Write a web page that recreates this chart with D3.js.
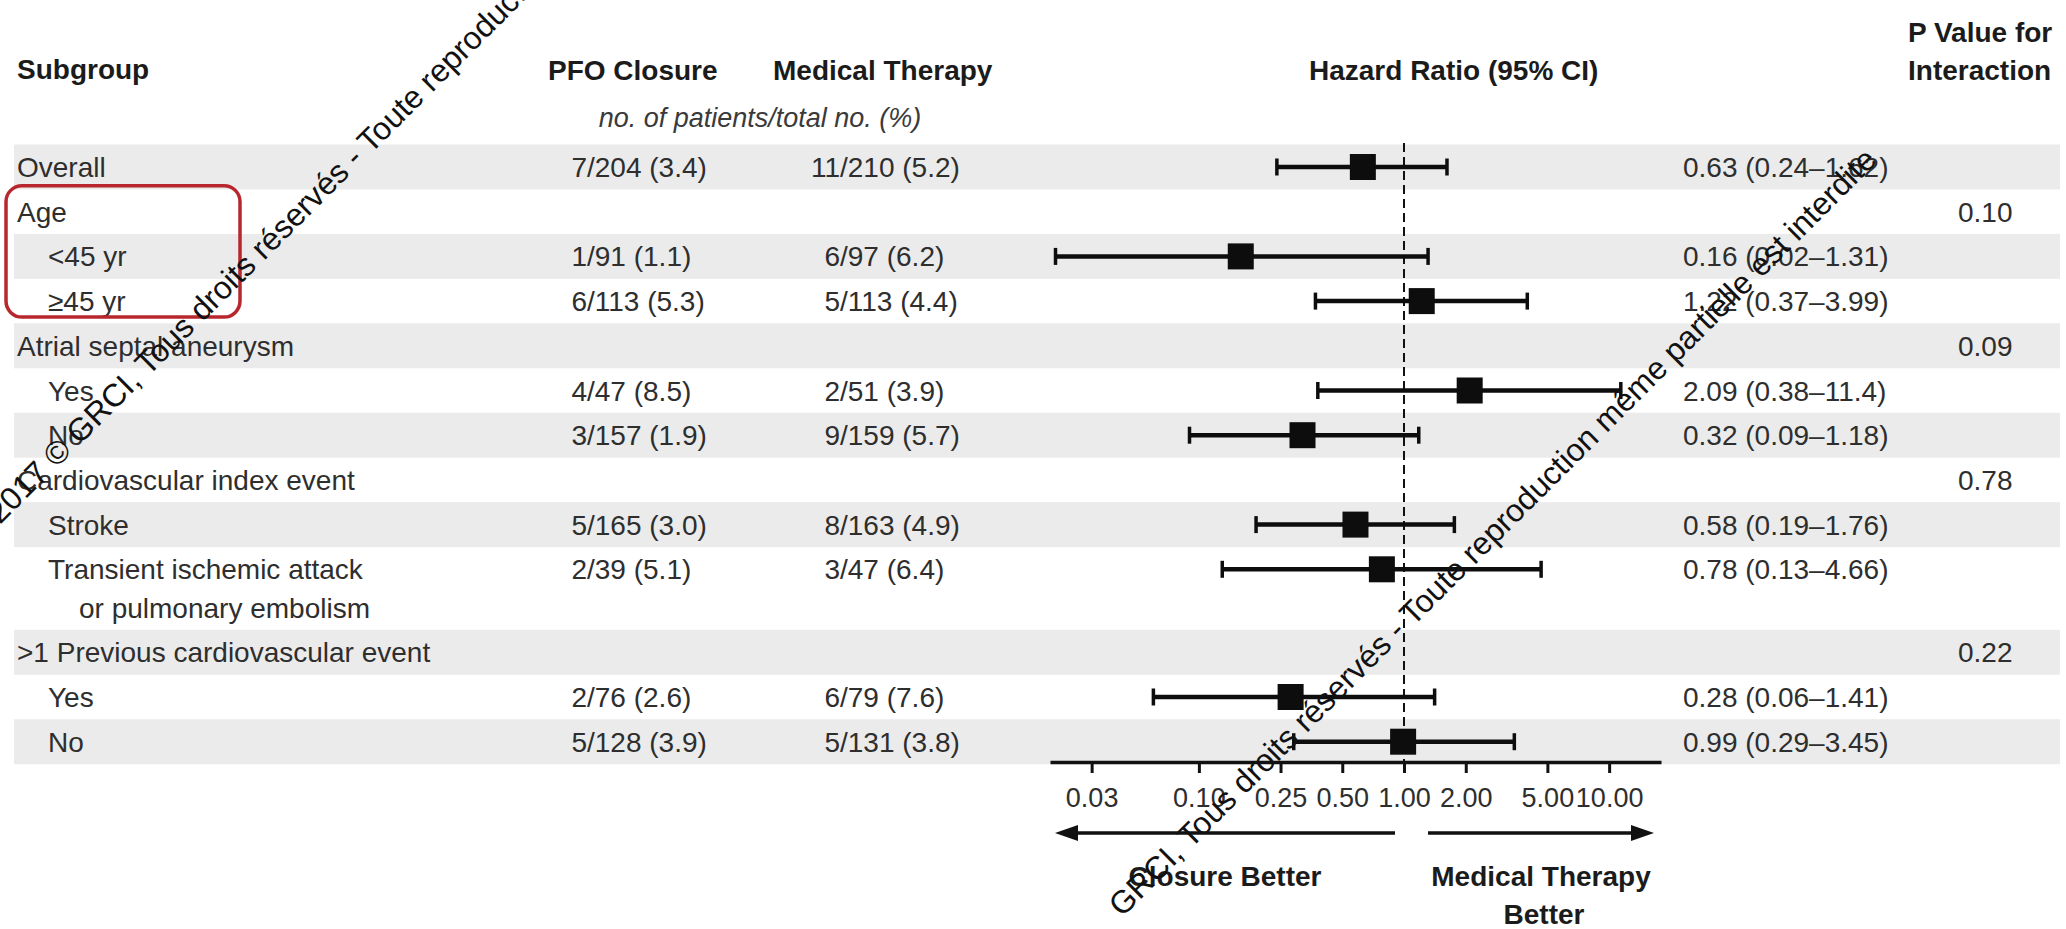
<!DOCTYPE html>
<html>
<head>
<meta charset="utf-8">
<script src="https://cdn.jsdelivr.net/npm/d3@7"></script>
<style>
  html, body { margin: 0; padding: 0; background: #fff; }
  svg { display: block; }
  text { font-family: "Liberation Sans", Arial, sans-serif; }
</style>
</head>
<body>
<svg id="chart" width="2066" height="929"></svg>
<script>
// ---- data -------------------------------------------------------------
const subgroups = ["Overall", "Age", "<45 yr", "\u226545 yr", "Atrial septal aneurysm", "Yes", "No",
  "Cardiovascular index event", "Stroke", "Transient ischemic attack\nor pulmonary embolism",
  ">1 Previous cardiovascular event", "Yes", "No"];
const levels = [0, 0, 1, 1, 0, 1, 1, 0, 1, 1, 0, 1, 1];

const pfoEvents = [7, null, 1, 6, null, 4, 3, null, 5, 2, null, 2, 5];
const pfoTotal  = [204, null, 91, 113, null, 47, 157, null, 165, 39, null, 76, 128];
const pfoPct    = [3.4, null, 1.1, 5.3, null, 8.5, 1.9, null, 3.0, 5.1, null, 2.6, 3.9];

const medEvents = [11, null, 6, 5, null, 2, 9, null, 8, 3, null, 6, 5];
const medTotal  = [210, null, 97, 113, null, 51, 159, null, 163, 47, null, 79, 131];
const medPct    = [5.2, null, 6.2, 4.4, null, 3.9, 5.7, null, 4.9, 6.4, null, 7.6, 3.8];

const hazardRatio = [0.63, null, 0.16, 1.22, null, 2.09, 0.32, null, 0.58, 0.78, null, 0.28, 0.99];
const ciLow       = [0.24, null, 0.02, 0.37, null, 0.38, 0.09, null, 0.19, 0.13, null, 0.06, 0.29];
const ciHigh      = [1.62, null, 1.31, 3.99, null, 11.4, 1.18, null, 1.76, 4.66, null, 1.41, 3.45];

const pInteraction = [null, "0.10", null, null, "0.09", null, null, "0.78", null, null, "0.22", null, null];

const axisTicks = [0.03, 0.10, 0.25, 0.50, 1.00, 2.00, 5.00, 10.00];

const noticeUpper = "2017 \u00a9 GRCI, Tous droits r\u00e9serv\u00e9s - Toute reproduction";
const noticeLower = "GRCI, Tous droits r\u00e9serv\u00e9s - Toute reproduction m\u00eame partielle est interdite";

// ---- layout -----------------------------------------------------------
const W = 2066, H = 929;
const svg = d3.select("#chart");
const ink = "#1b1b1b", body = "#2e2e2e";
const fs = 28;

const rowPitch = 44.7, lineStep = 38.3, firstRowY = 167;
const rowY = [];
{
  let cur = firstRowY;
  subgroups.forEach(s => { rowY.push(cur); cur += rowPitch + (s.split("\n").length - 1) * lineStep; });
}

const x = d3.scaleLog().domain([0.0188, 17.9]).range([1050, 1661]);
const axisY = 762;

const colLabel = [17, 48], contIndent = 79;
const pfoSlash = 587, medSlash = 840;
const ciX = 1683, pX = 1958;

// alternating row shading
svg.append("g").selectAll("rect")
  .data(subgroups.map((s, i) => i).filter(i => i % 2 === 0))
  .join("rect")
  .attr("x", 14).attr("width", 2046)
  .attr("y", i => rowY[i] - 22.5).attr("height", 45)
  .attr("fill", "#ebebeb");

// column headers
const hdr = svg.append("g").attr("font-weight", "bold").attr("font-size", fs).attr("fill", ink);
hdr.append("text").attr("x", 17).attr("y", 79).text("Subgroup");
hdr.append("text").attr("x", 548).attr("y", 80).text("PFO Closure");
hdr.append("text").attr("x", 773).attr("y", 80).text("Medical Therapy");
hdr.append("text").attr("x", 1309).attr("y", 80).text("Hazard Ratio (95% CI)");
hdr.append("text").attr("x", 1908).attr("y", 42).text("P Value for");
hdr.append("text").attr("x", 1908).attr("y", 80).text("Interaction");
svg.append("text").attr("x", 760).attr("y", 127).attr("text-anchor", "middle")
  .attr("font-style", "italic").attr("font-size", 27).attr("fill", "#3a3a3a")
  .text("no. of patients/total no. (%)");

// table body
const rows = svg.append("g").attr("font-size", fs).attr("fill", body);
subgroups.forEach((s, i) => {
  const y = rowY[i] + 10;
  s.split("\n").forEach((line, k) => {
    rows.append("text")
      .attr("x", k === 0 ? colLabel[levels[i]] : contIndent)
      .attr("y", y + k * lineStep)
      .text(line);
  });
  if (pfoEvents[i] != null) {
    rows.append("text").attr("x", pfoSlash).attr("y", y).attr("text-anchor", "end").text(pfoEvents[i]);
    rows.append("text").attr("x", pfoSlash).attr("y", y).text(`/${pfoTotal[i]} (${pfoPct[i].toFixed(1)})`);
    rows.append("text").attr("x", medSlash).attr("y", y).attr("text-anchor", "end").text(medEvents[i]);
    rows.append("text").attr("x", medSlash).attr("y", y).text(`/${medTotal[i]} (${medPct[i].toFixed(1)})`);
  }
  if (hazardRatio[i] != null) {
    const f = v => v >= 10 ? v.toFixed(1) : v.toFixed(2);
    rows.append("text").attr("x", ciX).attr("y", y)
      .text(`${f(hazardRatio[i])} (${f(ciLow[i])}\u2013${f(ciHigh[i])})`);
  }
  if (pInteraction[i] != null) {
    rows.append("text").attr("x", pX).attr("y", y).text(pInteraction[i]);
  }
});

// reference line at HR = 1
svg.append("line")
  .attr("x1", x(1)).attr("x2", x(1)).attr("y1", 143).attr("y2", axisY)
  .attr("stroke", "#111").attr("stroke-width", 2).attr("stroke-dasharray", "9,5");

// confidence intervals and point estimates
const est = svg.append("g").attr("stroke", "#0d0d0d");
hazardRatio.forEach((hr, i) => {
  if (hr == null) return;
  const y = rowY[i];
  est.append("line").attr("x1", x(ciLow[i])).attr("x2", x(ciHigh[i]))
    .attr("y1", y).attr("y2", y).attr("stroke-width", 4.5);
  [ciLow[i], ciHigh[i]].forEach(v => {
    est.append("line").attr("x1", x(v)).attr("x2", x(v))
      .attr("y1", y - 8.5).attr("y2", y + 8.5).attr("stroke-width", 3.5);
  });
  est.append("rect").attr("x", x(hr) - 13).attr("y", y - 13)
    .attr("width", 26).attr("height", 26).attr("fill", "#0d0d0d").attr("stroke", "none");
});

// log axis
const axis = d3.axisBottom(x).tickValues(axisTicks).tickFormat(d3.format(".2f"))
  .tickSize(11).tickSizeOuter(0);
const ag = svg.append("g").attr("transform", `translate(0,${axisY})`).call(axis);
ag.select(".domain").attr("stroke", "#111").attr("stroke-width", 3.5);
ag.selectAll(".tick line").attr("stroke", "#111").attr("stroke-width", 3);
ag.selectAll(".tick text")
  .attr("font-family", "'Liberation Sans', Arial, sans-serif")
  .attr("font-size", 27).attr("fill", body)
  .attr("y", 45).attr("dy", 0);

// direction arrows and captions
const arrowY = 833;
const [r0, r1] = x.range();
const leftArrow = [r0 + 5, x(1) - 9];
const rightArrow = [x(1) + 24, r1 - 7];
const arr = svg.append("g").attr("fill", "#111").attr("stroke", "#111");
arr.append("line").attr("x1", leftArrow[0] + 18).attr("x2", leftArrow[1])
  .attr("y1", arrowY).attr("y2", arrowY).attr("stroke-width", 3.5);
arr.append("path").attr("stroke", "none")
  .attr("d", `M${leftArrow[0]},${arrowY} L${leftArrow[0] + 23},${arrowY - 8} L${leftArrow[0] + 23},${arrowY + 8} Z`);
arr.append("line").attr("x1", rightArrow[0]).attr("x2", rightArrow[1] - 18)
  .attr("y1", arrowY).attr("y2", arrowY).attr("stroke-width", 3.5);
arr.append("path").attr("stroke", "none")
  .attr("d", `M${rightArrow[1]},${arrowY} L${rightArrow[1] - 23},${arrowY - 8} L${rightArrow[1] - 23},${arrowY + 8} Z`);

const cap = svg.append("g").attr("font-weight", "bold").attr("font-size", fs)
  .attr("fill", ink).attr("text-anchor", "middle");
cap.append("text").attr("x", (leftArrow[0] + leftArrow[1]) / 2).attr("y", 886).text("Closure Better");
cap.append("text").attr("x", (rightArrow[0] + rightArrow[1]) / 2).attr("y", 886).text("Medical Therapy");
cap.append("text").attr("x", (rightArrow[0] + rightArrow[1]) / 2 + 3).attr("y", 924).text("Better");

// highlight box around the age subgroup
svg.append("rect")
  .attr("x", 6).attr("y", rowY[1] - 26).attr("width", 234).attr("height", rowY[3] - rowY[1] + 42)
  .attr("rx", 16).attr("ry", 16)
  .attr("fill", "none").attr("stroke", "#b8272d").attr("stroke-width", 3.5);

// diagonal copyright notice
const wm = svg.append("g").attr("font-family", "'Liberation Sans', Arial, sans-serif")
  .attr("font-size", 32).attr("fill", "#111");
[[0, 525, noticeUpper], [1122, 918, noticeLower]].forEach(([px, py, t]) => {
  wm.append("text").attr("transform", `translate(${px},${py}) rotate(-45)`).text(t);
});
</script>
</body>
</html>
